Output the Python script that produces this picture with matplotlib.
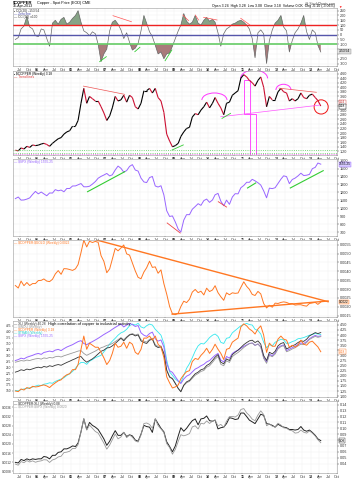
import numpy as np
import pandas as pd
import matplotlib
matplotlib.use('Agg')
import matplotlib.pyplot as plt
import matplotlib.dates as mdates
from matplotlib.collections import LineCollection
from matplotlib.patches import Arc, Ellipse, Rectangle

plt.rcParams['font.family'] = ['Liberation Sans', 'DejaVu Sans']

# ---- data (monthly readings, May 2004 .. Apr 2013) ----
months = pd.date_range('2004-05-01', periods=108, freq='MS') + pd.Timedelta(days=14)

cci = [-50, -30, 60, 90, 190, 80, 60, -10,
       -20, 60, 50, -40, -120, 120, 150, 110, 160, 180, 110, 130,
       170, 200, 250, 130, 40, 20, -10, 30, 10, -100, -280, -200,
       -150, 40, 130, 150, 110, 50, -40, 20, -80, -160, -140, -90,
       40, 200, 120, 30, -20, -110, -200, -180, -250, -200, -190, -120,
       -40, 40, 100, 220, 140, 110, 130, 200, 120, 100, 150, 180,
       140, 160, 130, 20, -120, 10, 60, 80, 110, 120, 140, 150,
       130, 100, 60, -40, -240, 20, 50, 10, -300, -60, 50, 120,
       150, 200, 80, 40, -180, -60, 20, 60, 120, 200, 30, -50,
       50, 20, -110, -180]

copper = [1.25, 1.22, 1.35, 1.30, 1.42, 1.37, 1.48, 1.45,
          1.47, 1.52, 1.55, 1.50, 1.42, 1.55, 1.65, 1.75, 1.80, 1.95, 2.05, 2.10,
          2.30, 2.30, 2.55, 3.30, 3.95, 3.30, 3.60, 3.50, 3.40, 3.40, 3.15, 2.88,
          2.55, 2.75, 3.10, 3.60, 3.40, 3.45, 3.65, 3.35, 3.65, 3.55, 3.15, 3.05,
          3.30, 3.85, 3.85, 3.95, 3.75, 3.95, 3.55, 3.40, 2.90, 1.95, 1.65, 1.40,
          1.45, 1.55, 1.85, 2.05, 2.20, 2.25, 2.70, 2.85, 2.80, 3.00, 3.15, 3.35,
          3.10, 3.30, 3.55, 3.30, 3.10, 2.80, 3.30, 3.35, 3.65, 3.75, 3.85, 4.40,
          4.55, 4.45, 4.30, 4.20, 4.05, 4.30, 4.45, 4.00, 3.15, 3.60, 3.45, 3.45,
          3.80, 3.95, 3.80, 3.75, 3.40, 3.50, 3.40, 3.50, 3.75, 3.55, 3.50, 3.65,
          3.70, 3.55, 3.42, 3.18]

spx = [1121, 1141, 1102, 1104, 1115, 1130, 1174, 1212,
       1181, 1204, 1181, 1157, 1192, 1191, 1234, 1220, 1229, 1207, 1249, 1248,
       1280, 1281, 1295, 1311, 1270, 1270, 1277, 1304, 1336, 1378, 1401, 1418,
       1438, 1407, 1421, 1482, 1531, 1503, 1455, 1474, 1527, 1549, 1481, 1468,
       1379, 1331, 1323, 1386, 1400, 1280, 1267, 1283, 1166, 969, 896, 903,
       826, 735, 700, 850, 919, 919, 987, 1021, 1057, 1036, 1096, 1115,
       1074, 1104, 1169, 1187, 1089, 1031, 1102, 1049, 1141, 1183, 1181, 1258,
       1286, 1327, 1326, 1364, 1345, 1321, 1292, 1219, 1131, 1253, 1247, 1258,
       1312, 1366, 1408, 1398, 1310, 1362, 1379, 1407, 1441, 1412, 1416, 1426,
       1498, 1515, 1569, 1555]

copper_gold = [0.00320, 0.00306, 0.00345, 0.00319, 0.00337, 0.00320, 0.00331, 0.00331,
               0.00348, 0.00349, 0.00357, 0.00345, 0.00342, 0.00355, 0.00385, 0.00404, 0.00383, 0.00415, 0.00414, 0.00410,
               0.00405, 0.00414, 0.00438, 0.00505, 0.00575, 0.00537, 0.00569, 0.00562, 0.00568, 0.00563, 0.00488, 0.00456,
               0.00392, 0.00414, 0.00468, 0.00529, 0.00515, 0.00531, 0.00548, 0.00498, 0.00491, 0.00447, 0.00402, 0.00366,
               0.00358, 0.00396, 0.00420, 0.00457, 0.00422, 0.00425, 0.00389, 0.00408, 0.00330, 0.00272, 0.00202, 0.00161,
               0.00156, 0.00165, 0.00202, 0.00232, 0.00224, 0.00243, 0.00283, 0.00298, 0.00280, 0.00288, 0.00267, 0.00305,
               0.00286, 0.00295, 0.00319, 0.00280, 0.00257, 0.00237, 0.00279, 0.00268, 0.00279, 0.00276, 0.00278, 0.00310,
               0.00341, 0.00315, 0.00299, 0.00270, 0.00264, 0.00287, 0.00273, 0.00219, 0.00194, 0.00209, 0.00198, 0.00221,
               0.00219, 0.00225, 0.00228, 0.00225, 0.00218, 0.00219, 0.00210, 0.00212, 0.00212, 0.00207, 0.00204, 0.00219,
               0.00222, 0.00225, 0.00214, 0.00227]

# performance panel, read on the left scale
perf_black = [229, 233, 239, 236, 242, 239, 243, 247,
              250, 247, 253, 250, 256, 253, 258, 261, 258, 264, 270, 275,
              281, 286, 292, 295, 281, 271, 278, 285, 295, 306, 317, 322,
              331, 333, 340, 350, 361, 372, 361, 375, 386, 389, 382, 386,
              361, 354, 350, 364, 368, 340, 333, 336, 306, 236, 208, 201,
              181, 160, 146, 174, 188, 194, 208, 222, 229, 239, 243, 257,
              264, 278, 292, 303, 271, 264, 285, 278, 303, 313, 322, 333,
              345, 354, 361, 364, 354, 361, 347, 299, 278, 313, 306, 317,
              340, 350, 354, 327, 333, 340, 345, 354, 361, 359, 368, 382,
              389, 396, 392, 396]
perf_gray = [271, 274, 278, 276, 280, 278, 282, 285,
             287, 284, 289, 287, 291, 289, 294, 296, 293, 298, 302, 306,
             310, 314, 318, 320, 308, 300, 306, 312, 318, 325, 332, 336,
             342, 345, 350, 358, 366, 375, 366, 378, 388, 392, 386, 390,
             366, 360, 356, 368, 372, 345, 338, 340, 310, 240, 210, 203,
             182, 160, 148, 172, 184, 190, 203, 216, 223, 232, 236, 250,
             256, 270, 284, 295, 262, 256, 277, 270, 295, 304, 312, 322,
             333, 342, 349, 352, 342, 348, 335, 287, 266, 300, 294, 305,
             327, 337, 341, 315, 320, 327, 332, 340, 347, 345, 354, 367,
             374, 380, 376, 379]
perf_purple = [278, 282, 288, 285, 292, 296, 300, 305,
               308, 304, 312, 315, 318, 315, 322, 325, 320, 328, 335, 340,
               345, 352, 358, 362, 350, 345, 352, 358, 365, 372, 380, 388,
               395, 402, 410, 418, 425, 432, 420, 428, 435, 430, 422, 426,
               395, 385, 380, 392, 398, 370, 360, 365, 335, 265, 235, 228,
               210, 192, 181, 200, 212, 218, 230, 242, 248, 256, 262, 272,
               278, 290, 300, 308, 280, 272, 295, 288, 308, 316, 322, 330,
               338, 344, 350, 352, 342, 348, 336, 292, 272, 305, 298, 310,
               332, 340, 344, 320, 326, 332, 338, 346, 352, 350, 358, 370,
               378, 384, 380, 382]
perf_cyan = [152, 150, 155, 158, 160, 163, 166, 170,
             174, 172, 178, 180, 184, 182, 190, 195, 200, 205, 215, 222,
             232, 245, 260, 270, 270, 262, 275, 282, 290, 295, 300, 315,
             330, 348, 360, 372, 385, 395, 400, 410, 425, 432, 428, 435,
             420, 415, 425, 432, 428, 410, 398, 385, 350, 280, 230, 215,
             200, 190, 185, 215, 245, 265, 290, 318, 340, 350, 348, 360,
             375, 385, 390, 380, 355, 350, 372, 375, 395, 405, 415, 425,
             430, 435, 430, 428, 410, 405, 390, 355, 332, 345, 340, 355,
             362, 368, 365, 350, 352, 358, 362, 370, 372, 375, 380, 385,
             388, 392, 390, 388]

copper_xli = [0.042, 0.041, 0.047, 0.045, 0.048, 0.046, 0.048, 0.047,
              0.048, 0.048, 0.052, 0.051, 0.048, 0.054, 0.054, 0.059, 0.060, 0.065, 0.065, 0.067,
              0.070, 0.069, 0.075, 0.094, 0.116, 0.098, 0.110, 0.105, 0.102, 0.098, 0.090, 0.082,
              0.071, 0.078, 0.087, 0.096, 0.088, 0.088, 0.093, 0.086, 0.089, 0.087, 0.080, 0.078,
              0.090, 0.105, 0.103, 0.102, 0.093, 0.116, 0.108, 0.100, 0.094, 0.077, 0.069, 0.060,
              0.070, 0.087, 0.101, 0.095, 0.100, 0.107, 0.113, 0.116, 0.106, 0.116, 0.117, 0.121,
              0.113, 0.112, 0.114, 0.099, 0.101, 0.102, 0.108, 0.118, 0.117, 0.115, 0.116, 0.126,
              0.126, 0.120, 0.114, 0.111, 0.108, 0.116, 0.124, 0.122, 0.108, 0.107, 0.105, 0.102,
              0.107, 0.104, 0.102, 0.101, 0.098, 0.098, 0.097, 0.098, 0.103, 0.097, 0.095, 0.097,
              0.093, 0.088, 0.082, 0.079]
copper_spx = [0.00112, 0.00107, 0.00123, 0.00118, 0.00127, 0.00121, 0.00126, 0.00120,
              0.00124, 0.00126, 0.00131, 0.00130, 0.00119, 0.00130, 0.00134, 0.00143, 0.00146, 0.00162, 0.00164, 0.00168,
              0.00180, 0.00180, 0.00197, 0.00252, 0.00311, 0.00260, 0.00282, 0.00268, 0.00254, 0.00247, 0.00225, 0.00203,
              0.00177, 0.00195, 0.00218, 0.00243, 0.00222, 0.00230, 0.00251, 0.00227, 0.00239, 0.00229, 0.00213, 0.00208,
              0.00239, 0.00289, 0.00291, 0.00285, 0.00268, 0.00309, 0.00280, 0.00265, 0.00249, 0.00201, 0.00184, 0.00155,
              0.00176, 0.00211, 0.00240, 0.00235, 0.00239, 0.00245, 0.00274, 0.00279, 0.00265, 0.00290, 0.00287, 0.00300,
              0.00289, 0.00299, 0.00304, 0.00278, 0.00285, 0.00272, 0.00299, 0.00319, 0.00320, 0.00317, 0.00326, 0.00350,
              0.00354, 0.00335, 0.00324, 0.00308, 0.00301, 0.00326, 0.00344, 0.00328, 0.00279, 0.00287, 0.00277, 0.00274,
              0.00290, 0.00282, 0.00270, 0.00268, 0.00260, 0.00257, 0.00247, 0.00249, 0.00260, 0.00251, 0.00247, 0.00256,
              0.00247, 0.00234, 0.00218, 0.00205]

# hand-drawn annotations (date, value)
cci_red = [(('2007-03-22', 198), ('2007-10-05', 135)), (('2009-04-05', 205), ('2009-06-05', 146)),
           (('2009-08-16', 205), ('2009-09-20', 153)), (('2009-11-12', 181), ('2010-04-05', 153)),
           (('2010-12-13', 171), ('2011-03-22', 101))]
cci_green = [(('2006-10-31', -281), ('2007-01-10', -229)), (('2007-11-10', -177), ('2008-01-03', -131)),
             (('2008-09-28', -271), ('2008-12-09', -159))]
spx_green = [(('2006-06-24', 1208), ('2007-07-25', 1460)), (('2011-02-24', 1255), ('2011-05-22', 1318)),
             (('2012-05-25', 1255), ('2013-05-11', 1473))]
spx_red = [(('2008-10-20', 814), ('2009-03-08', 688)), (('2010-04-18', 1082), ('2010-07-15', 1015))]

XMIN, XMAX = pd.Timestamp('2004-04-20'), pd.Timestamp('2013-10-05')
W, H = 353, 480
fig = plt.figure(figsize=(W / 100, H / 100), dpi=100)
fig.patch.set_facecolor('white')

FS = 2.7


def right_ticks(ax, size=FS):
    ax.yaxis.tick_right()
    ax.tick_params(axis='y', length=1.2, width=0.3, pad=0.8, labelsize=size, colors='#333333')


def left_ticks(ax):
    ax.yaxis.tick_left()
    ax.tick_params(axis='y', labelsize=2.3, length=0.8, width=0.3, pad=0.3, colors='#333333')


def yticks(ax, values, fmt, hide=()):
    # tick labels hidden where a value badge sits on the scale
    ax.set_yticks(values)
    ax.set_yticklabels(['' if any(abs(v - h) < 1e-9 for h in hide) else fmt % v for v in values])


def panel(top, bottom):
    ax = fig.add_axes([13 / W, 1 - bottom / H, 324 / W, (bottom - top) / H])
    ax.set_xlim(XMIN, XMAX)
    ticks = pd.date_range('2004-07-01', '2013-10-01', freq='QS-JAN')
    ax.set_xticks(ticks)
    ax.set_xticklabels([f"{t.year % 100:02d}" if t.month == 1 else t.strftime('%b') for t in ticks])
    for t, lab in zip(ticks, ax.get_xticklabels()):
        if t.month == 1:
            lab.set_fontweight('bold')
    ax.tick_params(axis='x', length=1.0, width=0.3, pad=0.5, labelsize=FS, colors='#333333')
    right_ticks(ax)
    ax.grid(True, color='#f0f0f0', lw=0.3)
    ax.set_axisbelow(True)
    for s in ax.spines.values():
        s.set_color('#999999')
        s.set_linewidth(0.4)
    return ax


def seg(ax, pairs, color, lw=0.7):
    for (d0, v0), (d1, v1) in pairs:
        ax.plot([pd.Timestamp(d0), pd.Timestamp(d1)], [v0, v1], color=color, lw=lw)


def legend(ax, lines):
    ph = ax.get_position().height * H
    for i, (txt, col) in enumerate(lines):
        ax.text(0.004, 1 - (1 + i * 2.9) / ph, txt,
                transform=ax.transAxes, fontsize=2.3, color=col, va='top')


def badge(ax, y, txt, fc, ec, tc='black'):
    ax.text(1.006, y, txt, transform=ax.get_yaxis_transform(), fontsize=2.3, color=tc,
            va='center', ha='left', bbox=dict(boxstyle='square,pad=0.12', fc=fc, ec=ec, lw=0.3))


# header
fig.text(13 / W, 1 - 1 / H, r'\$COPPER', fontsize=3, fontweight='bold', va='top')
fig.text(37 / W, 1 - 1 / H, 'Copper - Spot Price (EOD) CME', fontsize=2.7, va='top')
fig.text(13 / W, 1 - 4.5 / H, '16-Apr-2013', fontsize=2.6, va='top')
fig.text(335 / W, 1 - 1 / H, '@ StockCharts.com', fontsize=2.4, va='top', ha='right', color='#444444')
fig.text(335 / W, 1 - 4.5 / H, 'Open 3.24  High 3.28  Low 3.08  Close 3.18  Volume 0.0K  Chg -0.10 (-3.06%)',
         fontsize=2.5, va='top', ha='right')
fig.text(338 / W, 1 - 4.5 / H, '\u25bc', fontsize=2.5, va='top', color='red')

# panel 1: CCI
cci_a = np.array(cci, dtype=float)
ax1 = panel(8, 66)
ax1.plot(months, cci_a, color='#666666', lw=0.5)
ax1.fill_between(months, cci_a, 100, where=cci_a > 100, interpolate=True, color='#86a386', lw=0)
ax1.fill_between(months, cci_a, -100, where=cci_a < -100, interpolate=True, color='#a97b7b', lw=0)
ax1.axhline(100, color='#ee2222', lw=1.0)
ax1.axhline(0, color='#5555aa', lw=1.0)
ax1.axhline(-100, color='#66cc66', lw=1.2)
seg(ax1, cci_red, '#ff5555', 0.5)
seg(ax1, cci_green, '#33cc33', 0.6)
ax1.set_ylim(-326, 278)
yticks(ax1, np.arange(-300, 251, 50), '%d', hide=(-150, -200))
legend(ax1, [('\u25aa CCI(20) -153.54', '#333333'), ('\u2014 Zero line', '#4444aa'), ('\u2014 CCI(20) \u00b1100', '#333333')])
badge(ax1, -175, '-153.54', '#dddddd', '#888888')

# panel 2: copper price
ax2 = panel(71, 155)
dn = mdates.date2num(months)
pts = np.column_stack([dn, copper])
segs = np.stack([pts[:-1], pts[1:]], axis=1)
cols = ['#cc1133' if copper[i + 1] < copper[i] else 'black' for i in range(len(copper) - 1)]
ax2.add_collection(LineCollection(segs, colors=cols, linewidths=0.8))
ax2.set_ylim(1.04, 4.71)
price_ticks = np.round(np.arange(1.2, 4.61, 0.2), 2)
yticks(ax2, price_ticks, '%.2f', hide=(3.2, 3.4))
ax2.axhline(1.26, color='#55cc55', lw=0.6, ls=':')
ax2.axhline(1.14, color='#55cc55', lw=0.6, ls=':')
ax2.axhline(1.10, color='#ee44ee', lw=0.6, ls=':')
seg(ax2, [(('2006-05-11', 4.05), ('2007-07-25', 3.69))], '#ee5555', 0.5)
seg(ax2, [(('2012-01-26', 3.96), ('2013-02-27', 3.78))], '#ee5555', 0.5)
seg(ax2, [(('2010-05-14', 2.71), ('2013-04-01', 3.22))], '#ff55ff', 0.5)
seg(ax2, [(('2008-12-12', 1.26), ('2009-04-10', 1.48)), (('2010-05-28', 2.64), ('2010-08-27', 2.86))], '#33cc33', 0.6)
for cx, w, cy, h in [('2010-03-08', 268, 3.44, 0.62), ('2011-05-05', 287, 4.39, 0.72), ('2012-03-13', 161, 3.88, 0.50)]:
    ax2.add_patch(Arc((mdates.date2num(pd.Timestamp(cx)), cy), w, h, theta1=0, theta2=180, color='#ff33ff', lw=0.7))
ax2.add_patch(Rectangle((mdates.date2num(pd.Timestamp('2011-01-15')), 2.83), 64, 1.48, fill=False, ec='#ff33ff', lw=0.6))
ax2.add_patch(Rectangle((mdates.date2num(pd.Timestamp('2011-03-20')), 1.06), 66, 1.77, fill=False, ec='#ff33ff', lw=0.6))
ax2.add_patch(Ellipse((mdates.date2num(pd.Timestamp('2013-04-19')), 3.14), 150, 0.62, fill=False, ec='#ee1111', lw=0.7))
legend(ax2, [('\u25aa \\$COPPER (Weekly) 3.18', 'black'), ('\u2014 Trend lines', '#dd3333')])
badge(ax2, 3.34, '3.24', 'white', '#cc3333', '#cc3333')
badge(ax2, 3.17, '3.18', 'white', 'black')

# panel 3: S&P 500
ax3 = panel(159, 236)
ax3.plot(months, spx, color='#9966ff', lw=0.7)
seg(ax3, spx_green, '#33cc33', 0.8)
seg(ax3, spx_red, '#ee4444', 0.6)
ax3.set_ylim(650, 1620)
yticks(ax3, np.arange(700, 1601, 100), '%d')
legend(ax3, [('\u2014 \\$SPX (Weekly) 1555.25', '#9966ff')])
badge(ax3, 1555, '1555.25', '#d8ccff', '#9966ff')

# panel 4: copper:gold ratio
ax4 = panel(240, 317)
ax4.plot(months, copper_gold, color='#ff7722', lw=0.7)
seg(ax4, [(('2006-09-28', 0.00576), ('2013-07-02', 0.00229)), (('2008-12-12', 0.00159), ('2013-07-02', 0.00233))], '#ff7722', 1.0)
ax4.set_ylim(0.00143, 0.00576)
yticks(ax4, np.arange(0.0015, 0.00551, 0.0005), '%.4f')
legend(ax4, [('\u2014 \\$COPPER:\\$GOLD (Weekly) 0.0022', '#ff7722')])
badge(ax4, 0.00227, '0.0022', '#ffe0c8', '#ff7722')

# panel 5: copper vs industrial indexes
ax5 = panel(321, 397)
ax5.plot(months, perf_cyan, color='#33e8ee', lw=0.6)
ax5.plot(months, perf_purple, color='#9966ff', lw=0.7)
ax5.plot(months, perf_gray, color='#999999', lw=0.6)
ax5.plot(months, perf_black, color='#333333', lw=0.6)
ax5.set_ylim(124, 445)
yticks(ax5, np.arange(150, 426, 25), '%d')
ax5b = ax5.twinx()
left_ticks(ax5)
ax5b.plot(months, copper, color='#ff7722', lw=0.7)
ax5b.set_ylim(0.956, 4.69)
yticks(ax5b, np.arange(1.0, 4.51, 0.25), '%.2f', hide=(3.25,))
right_ticks(ax5b)
for s in ax5b.spines.values():
    s.set_visible(False)
legend(ax5, [('\u2014 XLI (Weekly) 40.28', '#333333'),
             ('\u2014 \\$INDU (Weekly)', '#999999'),
             ('\u2014 \\$COPPER (Weekly) 3.18', '#ff7722'),
             ('\u2014 \\$TRAN (Weekly)', '#22cccc'),
             ('\u2014 \\$SPX (Weekly) 1555.25', '#9966ff')])
ax5.text(0.108, 1 - 1 / 76, 'High correlation of copper to industrial activity', transform=ax5.transAxes,
         fontsize=3.0, va='top', color='black')
badge(ax5b, 3.18, '3.18', 'white', '#ff7722', '#ff7722')

# panel 6: copper relative to industrials and S&P
ax6 = panel(401, 473)
ax6.plot(months, copper_xli, color='#222222', lw=0.7)
ax6.set_ylim(0.0239, 0.1465)
yticks(ax6, np.arange(0.04, 0.141, 0.01), '%.2f', hide=(0.08,))
ax6b = ax6.twinx()
right_ticks(ax6)
ax6b.plot(months, copper_spx, color='#999999', lw=0.6)
ax6b.set_ylim(0.00073, 0.00387)
yticks(ax6b, np.arange(0.0008, 0.00361, 0.0004), '%.4f')
left_ticks(ax6b)
for s in ax6b.spines.values():
    s.set_visible(False)
legend(ax6, [('\u2014 \\$COPPER:XLI (Weekly) 0.08', '#222222'),
             ('\u2014 \\$COPPER:\\$SPX (Weekly) 0.0020', '#999999')])
badge(ax6, 0.079, '0.08', 'white', '#222222')

fig.savefig('out.png', dpi=100)
